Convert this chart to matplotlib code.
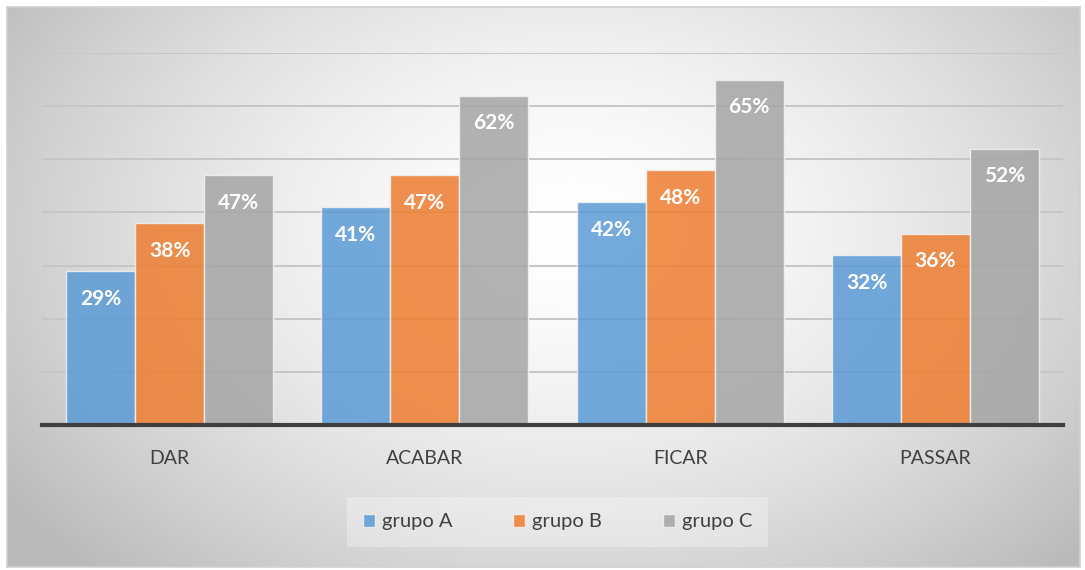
import numpy as np
import matplotlib.pyplot as plt

plt.rcParams['font.family'] = ['Lato', 'DejaVu Sans']

verbos = ["DAR", "ACABAR", "FICAR", "PASSAR"]
grupo_a = [29, 41, 42, 32]
grupo_b = [38, 47, 48, 36]
grupo_c = [47, 62, 65, 52]
series = ["grupo A", "grupo B", "grupo C"]
cores = ["#5B9BD5", "#ED7D31", "#A5A5A5"]

W, H = 1085, 570
fig = plt.figure(figsize=(W / 100, H / 100), dpi=100)
fig.patch.set_facecolor("white")

# chart area with a soft radial grey gradient
bx0, by0, bx1, by1 = 7, 7, 1080, 567
bg = fig.add_axes([bx0 / W, 1 - by1 / H, (bx1 - bx0) / W, (by1 - by0) / H])
xx, yy = np.meshgrid(np.arange(bx0, bx1), np.arange(by0, by1))
d = np.sqrt(((xx - 570) / 620) ** 2 + ((yy - 230) / 430) ** 2)
shade = 1 - 0.23 * np.clip(d, 0, 1.1) ** 1.6
bg.imshow(np.dstack([shade] * 3), aspect="auto", interpolation="bilinear")
bg.set_xticks([])
bg.set_yticks([])
for s in bg.spines.values():
    s.set_color("#d0d0d0")
    s.set_linewidth(1.2)

ax = fig.add_axes([42 / W, 1 - 425 / H, (1063 - 42) / W, (425 - 53) / H])
ax.patch.set_alpha(0)

x = np.arange(len(verbos))
w = 0.27
for i, (vals, nome, cor) in enumerate(zip([grupo_a, grupo_b, grupo_c], series, cores)):
    pos = x + (i - 1) * w
    bars = ax.bar(pos, vals, width=w, color=cor, alpha=0.85, edgecolor="#f2f2f2",
                  linewidth=1.0, label=nome, zorder=3)
    for b, v in zip(bars, vals):
        ax.annotate(f"{v}%", (b.get_x() + b.get_width() / 2, v), xytext=(0, -20),
                    textcoords="offset points", ha="center", va="center",
                    color="white", fontsize=15, fontweight="bold", zorder=4)

ax.set_xlim(-0.5, len(verbos) - 0.5)
ax.set_ylim(0, 70)
ax.set_yticks(np.arange(10, 71, 10))
ax.yaxis.grid(True, color="#c6c6c6", linewidth=1.4, zorder=0)
ax.tick_params(axis="y", left=False, labelleft=False)
ax.set_xticks(x)
ax.set_xticklabels(verbos, fontsize=14, color="#404040")
ax.tick_params(axis="x", length=0, pad=18)
for s in ["top", "right", "left"]:
    ax.spines[s].set_visible(False)
ax.spines["bottom"].set_color("#3f3f3f")
ax.spines["bottom"].set_linewidth(3)
ax.spines["bottom"].set_zorder(5)

leg = fig.legend(loc="center", bbox_to_anchor=(0.514, 1 - 522 / H), ncol=3,
                 fontsize=14.5, frameon=True, handlelength=0.6, handleheight=0.6,
                 handletextpad=0.35, columnspacing=3.0, borderpad=0.6)
leg.get_frame().set_facecolor("white")
leg.get_frame().set_alpha(0.3)
leg.get_frame().set_edgecolor("none")
leg.get_frame().set_boxstyle("square", pad=0.2)
for t in leg.get_texts():
    t.set_color("#404040")

fig.savefig("out.png", dpi=100)
